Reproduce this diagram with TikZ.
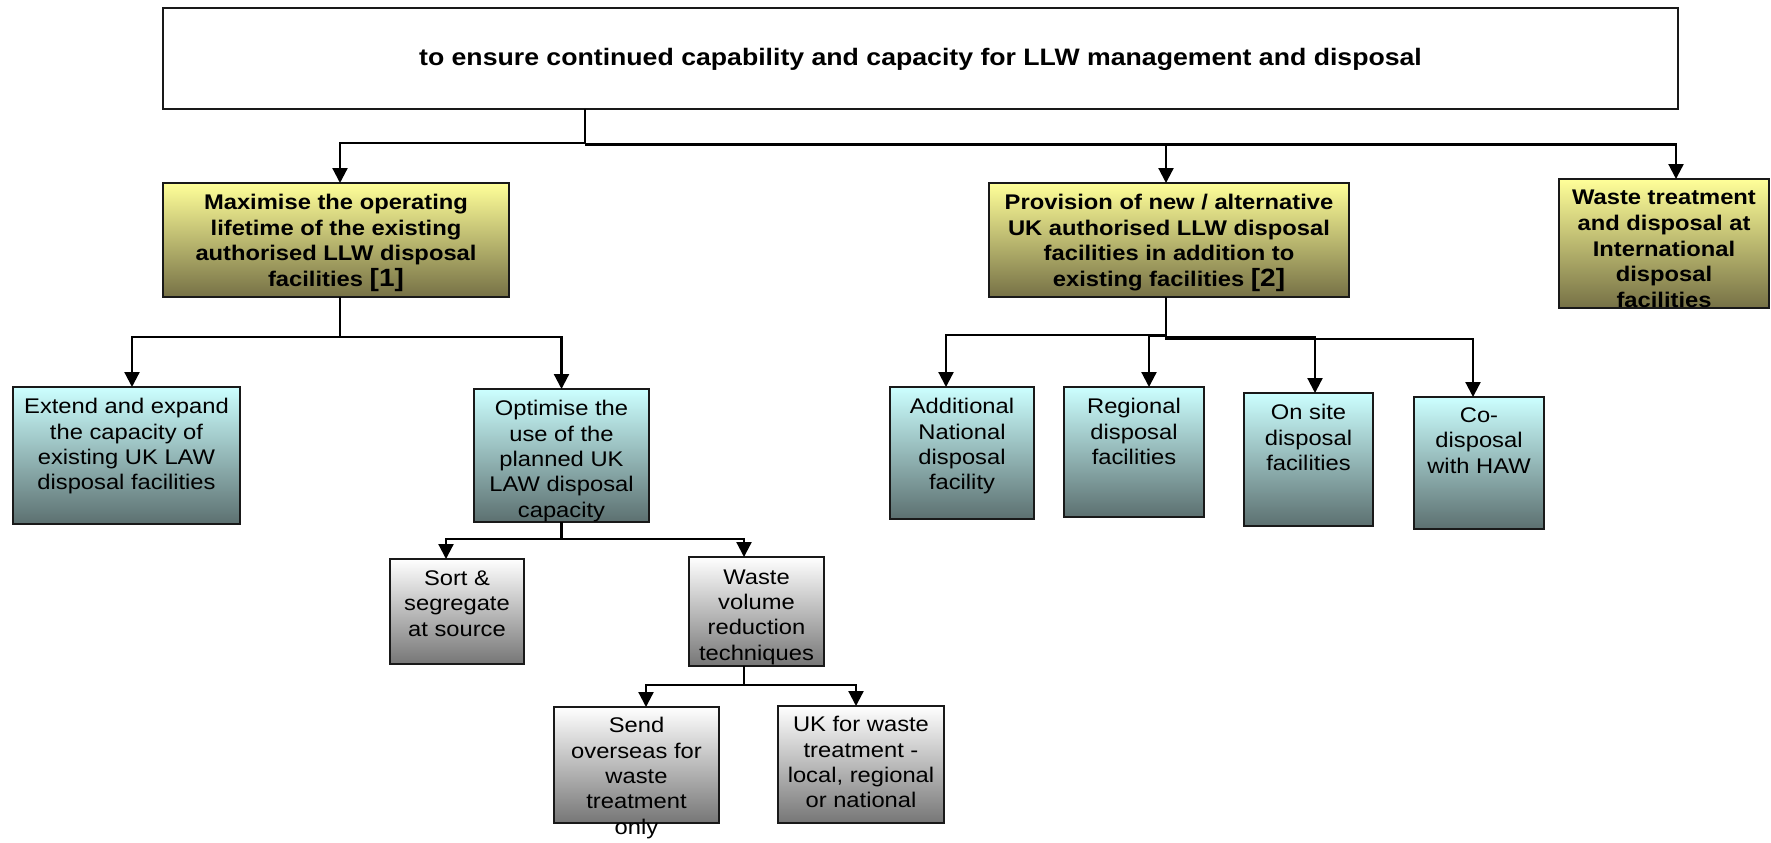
\documentclass[tikz,border=0pt]{standalone}
\usepackage{fontspec}
\setmainfont{Liberation Sans}[FakeStretch=1.12]
\usetikzlibrary{arrows.meta,calc,fit}
\definecolor{yelT}{RGB}{255,255,153}
\definecolor{yelB}{RGB}{118,113,70}
\definecolor{cyaT}{RGB}{204,255,255}
\definecolor{cyaB}{RGB}{92,112,112}
\definecolor{gryB}{RGB}{118,118,118}
\begin{document}
\begin{tikzpicture}[x=0.5pt,y=-0.5pt,
  box/.style={draw=black!90,line width=1.1pt,inner sep=0pt,outer sep=0pt},
  wbox/.style={box,fill=white},
  ybox/.style={box,top color=yelT,bottom color=yelB},
  cbox/.style={box,top color=cyaT,bottom color=cyaB},
  gbox/.style={box,top color=white,bottom color=gryB},
  conn/.style={line width=1.1pt,draw=black},
  arr/.style={conn,-{Triangle[width=7.5pt,length=7.5pt]}},
  txt/.style={anchor=north,inner sep=0pt,align=center,font=\fontsize{10.6}{12.7}\selectfont},
  btxt/.style={txt,font=\fontsize{10.6}{12.8}\selectfont\bfseries},
]
\useasboundingbox (0,0) rectangle (1771,842);

% boxes
\node[wbox,fit={(163,8) (1678,109)}] (top) {};
\node[ybox,fit={(163,183) (509,297)}] (b1) {};
\node[ybox,fit={(989,183) (1349,297)}] (b2) {};
\node[ybox,fit={(1559,179) (1769,308)}] (b3) {};
\node[cbox,fit={(13,387) (240,524)}] (ext) {};
\node[cbox,fit={(474,389) (649,522)}] (opt) {};
\node[gbox,fit={(390,559) (524,664)}] (sort) {};
\node[gbox,fit={(689,557) (824,666)}] (wvr) {};
\node[gbox,fit={(554,707) (719,823)}] (send) {};
\node[gbox,fit={(778,706) (944,823)}] (ukw) {};
\node[cbox,fit={(890,387) (1034,519)}] (add) {};
\node[cbox,fit={(1064,387) (1204,517)}] (reg) {};
\node[cbox,fit={(1244,393) (1373,526)}] (ons) {};
\node[cbox,fit={(1414,397) (1544,529)}] (cod) {};

% texts
\node[anchor=base,inner sep=0pt,font=\fontsize{11.9}{14}\selectfont\bfseries] (topt) at ($(top.center)+(0,6.5)$) {to ensure continued capability and capacity for LLW management and disposal};
\node[btxt] (b1t) at ($(b1.north)+(0,11)$) {Maximise the operating\\lifetime of the existing\\authorised LLW disposal\\facilities {\fontsize{12.5}{12.8}\selectfont[1]}};
\node[btxt] (b2t) at ($(b2.north)+(0,11)$) {Provision of new / alternative\\UK authorised LLW disposal\\facilities in addition to\\existing facilities {\fontsize{12.5}{12.8}\selectfont[2]}};
\node[btxt] (b3t) at ($(b3.north)+(0,11)$) {Waste treatment\\and disposal at\\International\\disposal\\facilities};
\node[txt] (extt) at ($(ext.north)+(0,11)$) {Extend and expand\\the capacity of\\existing UK LAW\\disposal facilities};
\node[txt] (optt) at ($(opt.north)+(0,11)$) {Optimise the\\use of the\\planned UK\\LAW disposal\\capacity};
\node[txt] (sortt) at ($(sort.north)+(0,11)$) {Sort \&\\segregate\\at source};
\node[txt] (wvrt) at ($(wvr.north)+(0,12)$) {Waste\\volume\\reduction\\techniques};
\node[txt] (sendt) at ($(send.north)+(0,10)$) {Send\\overseas for\\waste\\treatment\\only};
\node[txt] (ukwt) at ($(ukw.north)+(0,10)$) {UK for waste\\treatment -\\local, regional\\or national};
\node[txt] (addt) at ($(add.north)+(0,11)$) {Additional\\National\\disposal\\facility};
\node[txt] (regt) at ($(reg.north)+(0,11)$) {Regional\\disposal\\facilities};
\node[txt] (onst) at ($(ons.north)+(0,11)$) {On site\\disposal\\facilities};
\node[txt] (codt) at ($(cod.north)+(0,10)$) {Co-\\disposal\\with HAW};

% connectors from top
\coordinate (tt) at (585,143);
\draw[conn] (tt |- top.south) -- (tt);
\draw[arr] (tt) -| ($(b1.north)+(4,0)$);
\draw[arr] ($(tt)+(0,1.5)$) -| ($(b2.north)+(-3,0)$);
\draw[arr] ($(tt)+(0,1.5)$) -| ($(b3.north)+(12,0)$);

% from b1
\draw[arr] ($(b1.south)+(4,0)$) -- ++(0,40) -| ($(ext.north)+(5.5,0)$);
\draw[arr] ($(b1.south)+(4,0)$) -- ++(0,40) -| (opt.north);

% from opt
\draw[arr] (opt.south) -- ++(0,17) -| ($(sort.north)+(-11,0)$);
\draw[arr] (opt.south) -- ++(0,17) -| ($(wvr.north)+(-12.5,0)$);

% from wvr
\draw[arr] ($(wvr.south)+(-12.5,0)$) -- ++(0,19) -| ($(send.north)+(9.5,0)$);
\draw[arr] ($(wvr.south)+(-12.5,0)$) -- ++(0,19) -| ($(ukw.north)+(-5,0)$);

% from b2
\draw[arr] ($(b2.south)+(-3,0)$) -- ++(0,38) -| ($(add.north)+(-16,0)$);
\draw[arr] ($(b2.south)+(-3,0)$) -- ++(0,39) -| ($(reg.north)+(15,0)$);
\draw[arr] ($(b2.south)+(-3,0)$) -- ++(0,40) -| ($(ons.north)+(6.5,0)$);
\draw[arr] ($(b2.south)+(-3,0)$) -- ++(0,42) -| ($(cod.north)+(-6,0)$);
\end{tikzpicture}
\end{document}
